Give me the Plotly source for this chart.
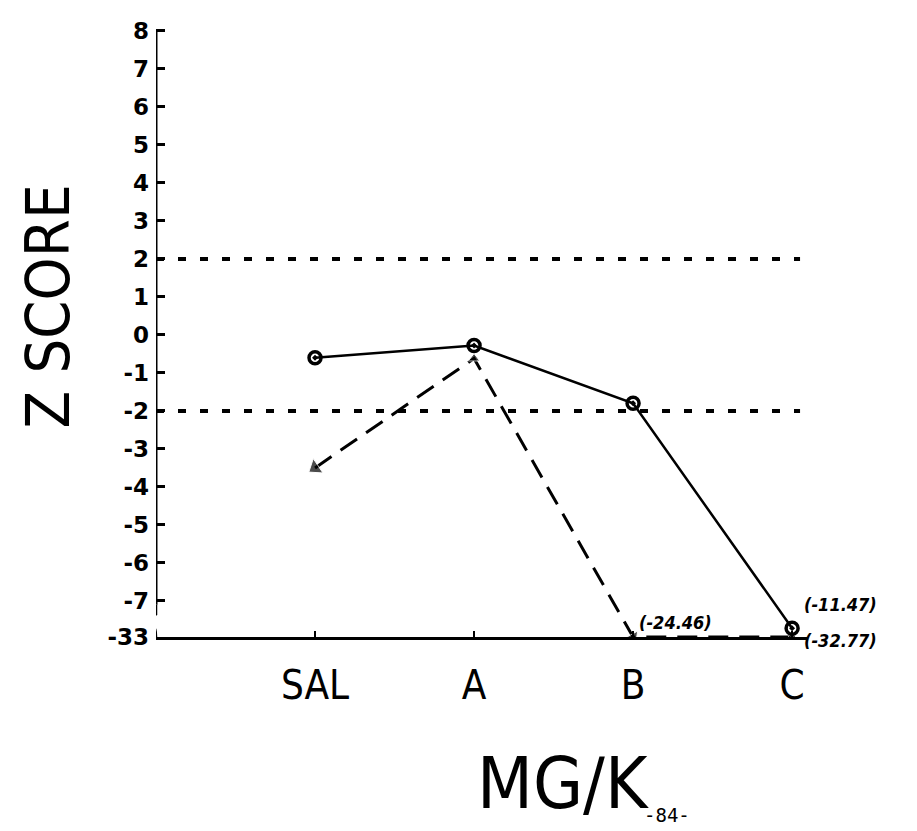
import plotly.graph_objects as go

# doses on the x axis
doses = ["SAL", "A", "B", "C"]
# z scores, two conditions
z_solid = [-0.6, -0.28, -1.8, -11.47]
z_dashed = [-3.5, -0.62, -24.46, -32.77]
# y tick labels (axis broken below -7, bottom labelled -33)
y_ticks = [8, 7, 6, 5, 4, 3, 2, 1, 0, -1, -2, -3, -4, -5, -6, -7]
y_break_label = "-33"
sig_lines = [2, -2]

AXIS_BOTTOM = -7.95

def shown(vals, floor):
    # off-scale values are drawn on the broken axis
    return [v if v > floor else floor for v in vals]

xi = list(range(len(doses)))
black = "black"
narrow = "DejaVu Sans Condensed, Roboto Condensed, Liberation Sans Narrow, Liberation Sans"

fig = go.Figure()

for s in sig_lines:
    fig.add_trace(go.Scatter(x=[-1, 3.05], y=[s, s], mode="lines",
                             line=dict(color=black, width=4, dash="8px,14px"),
                             hoverinfo="skip", showlegend=False))

fig.add_trace(go.Scatter(
    x=xi, y=shown(z_dashed, AXIS_BOTTOM), mode="lines+markers",
    line=dict(color=black, width=3, dash="20px,11px"),
    marker=dict(symbol="triangle-up", angle=[236, 0, 151, 0],
                size=[15, 10, 12, 10], color=black),
    showlegend=False))

fig.add_trace(go.Scatter(
    x=xi, y=shown(z_solid, -7.72), mode="lines+markers",
    line=dict(color=black, width=2.5),
    marker=dict(symbol="circle-open-dot", size=12, color=black, line=dict(width=3.5)),
    showlegend=False))

# labels for values below the axis break
lab_font = dict(family=narrow, size=18, color=black, weight="bold", style="italic")
fig.add_annotation(x=2, y=AXIS_BOTTOM, text="(%.2f)" % z_dashed[2], showarrow=False,
                   xanchor="left", yanchor="middle", xshift=4, yshift=15, font=lab_font)
fig.add_annotation(x=3, y=AXIS_BOTTOM, text="(%.2f)" % z_solid[3], showarrow=False,
                   xanchor="left", yanchor="middle", xshift=10, yshift=33, font=lab_font)
fig.add_annotation(x=3, y=AXIS_BOTTOM, text="(%.2f)" % z_dashed[3], showarrow=False,
                   xanchor="left", yanchor="middle", xshift=10, yshift=-3, font=lab_font)

# axis titles and page number
fig.add_annotation(xref="paper", yref="paper", x=-0.166, y=0.543, text="Z SCORE",
                   textangle=-90, showarrow=False, xanchor="center", yanchor="middle",
                   font=dict(family=narrow, size=61, color=black, weight=300))
fig.add_annotation(xref="paper", yref="paper", x=0.624, y=-0.240, text="MG/K",
                   showarrow=False, xanchor="center", yanchor="middle",
                   font=dict(family=narrow, size=72, color=black, weight=300))
fig.add_annotation(xref="paper", yref="paper", x=0.745, y=-0.292, text="-84-",
                   showarrow=False, xanchor="left", yanchor="middle",
                   font=dict(family="DejaVu Sans Mono", size=19, color=black))

# axis break marks
fig.add_shape(type="path", xref="x", yref="y",
              path="M -1,-7.1 L -1,-7.35 L -1.04,-7.45",
              line=dict(color=black, width=2.5))
fig.add_shape(type="path", xref="x", yref="y",
              path="M -1.02,-7.7 Q -1,-7.68 -1,-7.95",
              line=dict(color=black, width=2.5))
# y axis line, broken just under -7
fig.add_shape(type="line", xref="x", yref="y", x0=-1, x1=-1, y0=8, y1=-7.1,
              line=dict(color=black, width=3))

fig.update_layout(
    width=917, height=831,
    margin=dict(l=148, r=117, t=10, b=202),
    paper_bgcolor="white", plot_bgcolor="white",
    xaxis=dict(range=[-1, 3.1], tickvals=xi, ticktext=doses,
               showline=True, linecolor=black, linewidth=3,
               ticks="inside", ticklen=6, tickwidth=2, tickcolor=black,
               showgrid=False, zeroline=False, ticklabelstandoff=11,
               tickfont=dict(family=narrow, size=40, color=black)),
    yaxis=dict(range=[AXIS_BOTTOM, 8.05],
               tickvals=y_ticks + [AXIS_BOTTOM],
               ticktext=[str(t) for t in y_ticks] + [y_break_label],
               showline=False, ticks="inside", ticklen=9, tickwidth=2.5, tickcolor=black,
               showgrid=False, zeroline=False, ticklabelstandoff=6,
               ticklabeloverflow="allow",
               tickfont=dict(family="DejaVu Sans", size=23, color=black, weight="bold")),
)

fig.write_html("out.html")
